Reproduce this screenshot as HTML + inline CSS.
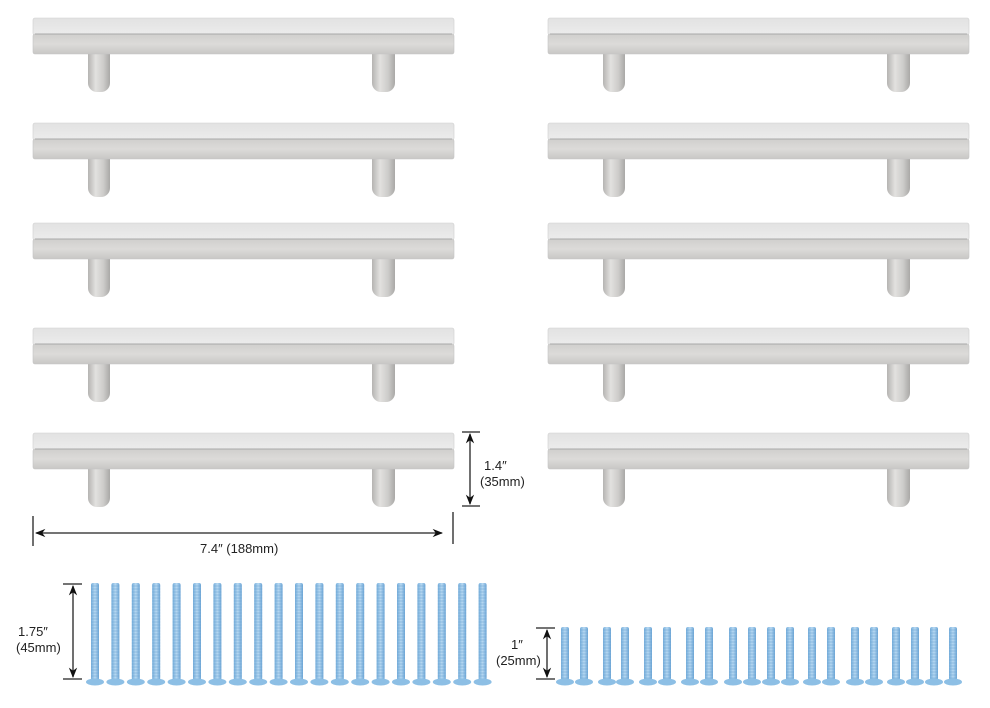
<!DOCTYPE html>
<html><head><meta charset="utf-8"><style>
html,body{margin:0;padding:0;background:#fff;}
svg{display:block;font-family:"Liberation Sans",sans-serif;}
</style></head><body>
<svg id="s" width="990" height="708" viewBox="0 0 990 708" xmlns="http://www.w3.org/2000/svg">
<defs>
<linearGradient id="top" x1="0" y1="0" x2="0" y2="1"><stop offset="0" stop-color="#e2e2e2"/><stop offset="1" stop-color="#ececec"/></linearGradient>
<linearGradient id="front" x1="0" y1="0" x2="0" y2="1"><stop offset="0" stop-color="#d0cfcd"/><stop offset="0.5" stop-color="#dcdbd9"/><stop offset="1" stop-color="#c8c7c5"/></linearGradient>
<linearGradient id="post" x1="0" y1="0" x2="1" y2="0"><stop offset="0" stop-color="#b5b4b2"/><stop offset="0.35" stop-color="#e2e1df"/><stop offset="0.7" stop-color="#cdccca"/><stop offset="1" stop-color="#a9a8a6"/></linearGradient>
<linearGradient id="scr" x1="0" y1="0" x2="1" y2="0"><stop offset="0" stop-color="#74addb"/><stop offset="0.5" stop-color="#b8d9f2"/><stop offset="1" stop-color="#6ca5d6"/></linearGradient>
<marker id="ah" viewBox="0 0 10 10" refX="9" refY="5" markerWidth="8" markerHeight="8" orient="auto-start-reverse"><path d="M0,1 L10,5 L0,9 L3,5 z" fill="#111"/></marker>
</defs>
<g id="g"></g>
<g stroke="#222" stroke-width="1.3" fill="none">
<line x1="462" y1="432" x2="480" y2="432"/><line x1="462" y1="506" x2="480" y2="506"/>
<line x1="470" y1="434" x2="470" y2="504" marker-start="url(#ah)" marker-end="url(#ah)"/>
<line x1="33" y1="516" x2="33" y2="546"/><line x1="453" y1="512" x2="453" y2="544"/>
<line x1="36" y1="533" x2="442" y2="533" marker-start="url(#ah)" marker-end="url(#ah)"/>
<line x1="63" y1="584" x2="82" y2="584"/><line x1="63" y1="679" x2="82" y2="679"/>
<line x1="73" y1="586" x2="73" y2="677" marker-start="url(#ah)" marker-end="url(#ah)"/>
<line x1="536" y1="628" x2="555" y2="628"/><line x1="536" y1="679" x2="555" y2="679"/>
<line x1="547" y1="630" x2="547" y2="677" marker-start="url(#ah)" marker-end="url(#ah)"/>
</g>
<g fill="#222" font-size="13">
<text x="484" y="470">1.4″</text><text x="480" y="486">(35mm)</text>
<text x="200" y="553">7.4″ (188mm)</text>
<text x="18" y="636">1.75″</text><text x="16" y="652">(45mm)</text>
<text x="511" y="649">1″</text><text x="496" y="665">(25mm)</text>
</g>
</svg>
<script>
var g=document.getElementById('g'),h='';
var rows=[18,123,223,328,433];
function handle(x,y){
 var w=421;
 [[x+55,22],[x+339,23]].forEach(function(p){
  h+='<rect x="'+p[0]+'" y="'+(y+34)+'" width="'+p[1]+'" height="40" rx="9" fill="url(#post)"/>';
  h+='<rect x="'+p[0]+'" y="'+(y+34)+'" width="'+p[1]+'" height="20" fill="url(#post)"/>';
 });
 h+='<rect x="'+x+'" y="'+y+'" width="'+w+'" height="17" rx="2" fill="url(#top)" stroke="#cfcfcf" stroke-width="0.6"/>';
 h+='<rect x="'+x+'" y="'+(y+16)+'" width="'+w+'" height="20" rx="2" fill="url(#front)" stroke="#c4c4c4" stroke-width="0.6"/>';
 h+='<line x1="'+(x+2)+'" y1="'+(y+16)+'" x2="'+(x+w-2)+'" y2="'+(y+16)+'" stroke="#a8a8a8" stroke-width="1"/>';
}
rows.forEach(function(y){handle(33,y);handle(548,y);});
function screw(x,top,bot){
 h+='<rect x="'+(x-4)+'" y="'+top+'" width="8" height="'+(bot-top)+'" rx="2" fill="url(#scr)"/>';
 for(var yy=top+3;yy<bot;yy+=3)h+='<line x1="'+(x-4)+'" y1="'+yy+'" x2="'+(x+4)+'" y2="'+yy+'" stroke="#6aa2d0" stroke-width="0.5"/>';
 h+='<ellipse cx="'+x+'" cy="'+(bot+2)+'" rx="9" ry="3.5" fill="#8dbfe5"/>';
}
for(var i=0;i<20;i++)screw(95+i*20.4,583,680);
[565,584,607,625,648,667,690,709,733,752,771,790,812,831,855,874,896,915,934,953].forEach(function(x){screw(x,627,680);});
g.innerHTML=h;
</script>
</body></html>
